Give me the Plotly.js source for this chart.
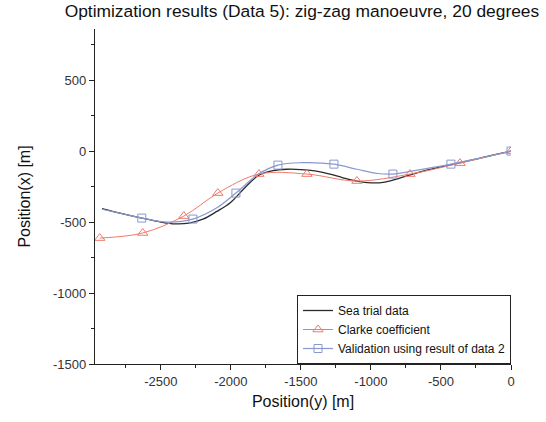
<!DOCTYPE html>
<html><head><meta charset="utf-8">
<script src="https://cdn.plot.ly/plotly-3.0.1.min.js"></script>
<style>body{margin:0;background:#fff}#g{width:546px;height:422px}</style>
</head><body><div id="g"></div>
<script>
// Sea trial data (dense trajectory)
const seaX = [-2920,-2800,-2636,-2500,-2400,-2300,-2200,-2100,-2000,-1900,-1800,-1700,-1600,-1500,-1400,-1300,-1200,-1100,-1000,-900,-800,-700,-600,-500,-400,-300,-200,-100,0];
const seaY = [-405,-435,-472,-500,-513,-508,-480,-425,-360,-258,-170,-138,-128,-130,-140,-160,-188,-212,-224,-218,-192,-162,-135,-112,-90,-68,-45,-22,0];
// Clarke coefficient (markers)
const clarkeX = [-2936,-2629,-2336,-2093,-1800,-1457,-1100,-721,-364,0];
const clarkeY = [-613,-577,-458,-296,-162,-162,-211,-162,-85,0];
// Validation using result of data 2 (line)
const valX = [-2920,-2780,-2636,-2450,-2271,-2100,-1964,-1800,-1664,-1500,-1264,-1100,-950,-843,-700,-429,-200,0];
const valY = [-410,-440,-472,-500,-479,-400,-296,-160,-99,-82,-92,-128,-158,-162,-140,-92,-45,0];
// Validation markers
const valMX = [-2636,-2271,-1964,-1664,-1264,-843,-429,0];
const valMY = [-472,-479,-296,-99,-92,-162,-92,0];
const seriesNames = ["Sea trial data","Clarke coefficient","Validation using result of data 2"];
// Tick labels
const xTickVals = [-2500,-2000,-1500,-1000,-500,0];
const xTickText = ['-2500','-2000','-1500','-1000','-500','0'];
const yTickVals = [-1500,-1000,-500,0,500];
const yTickText = ['-1500','-1000','-500','0','500'];

const cBlack = '#2a2a2a', cRed = '#f07a6a', cBlue = '#8a98d0';
const traces = [
  {x: seaX, y: seaY, mode:'lines', line:{color:cBlack, width:1.3, shape:'spline'}, name: seriesNames[0]},
  {x: clarkeX, y: clarkeY, mode:'lines+markers', line:{color:cRed, width:1, shape:'spline'},
   marker:{symbol:'triangle-up-open', size:9, color:cRed, line:{width:1}}, name: seriesNames[1]},
  {x: valX, y: valY, mode:'lines', line:{color:cBlue, width:1.2, shape:'spline'}, showlegend:false, hoverinfo:'skip'},
  {x: valMX, y: valMY, mode:'markers', marker:{symbol:'square-open', size:8, color:cBlue, line:{width:1}}, showlegend:false},
  {x:[null], y:[null], mode:'lines+markers', line:{color:cBlue, width:1.2},
   marker:{symbol:'square-open', size:8, color:cBlue, line:{width:1}}, name: seriesNames[2]}
];
const font = {family:'"Liberation Sans", Arial, sans-serif', color:'#111'};
const tickFont = {family:'"Liberation Sans", Arial, sans-serif', color:'#333', size:13};
const layout = {
  width:546, height:422,
  margin:{l:95, r:35, t:29, b:58},
  paper_bgcolor:'#fff', plot_bgcolor:'#fff',
  font: Object.assign({size:13}, font),
  title:{text:'Optimization results (Data 5): zig-zag manoeuvre, 20 degrees', x:0.553, xanchor:'center', y:0.988, yanchor:'top', font:Object.assign({size:17.4}, font)},
  xaxis:{range:[-2970,0], tickmode:'array', tickvals:xTickVals, ticktext:xTickText, tickfont:tickFont,
    ticks:'outside', ticklen:5, tickwidth:1, tickcolor:'#222',
    showline:true, linecolor:'#222', linewidth:1.2, showgrid:false, zeroline:false,
    minor:{ticks:'outside', ticklen:3, dtick:250, tick0:0, tickcolor:'#222', showgrid:false},
    title:{text:'Position(y) [m]', font:Object.assign({size:16}, font), standoff:8}},
  yaxis:{range:[-1500,860], tickmode:'array', tickvals:yTickVals, ticktext:yTickText, tickfont:tickFont,
    ticks:'outside', ticklen:5, tickwidth:1, tickcolor:'#222',
    showline:true, linecolor:'#222', linewidth:1.2, showgrid:false, zeroline:false,
    minor:{ticks:'outside', ticklen:3, dtick:250, tick0:0, tickcolor:'#222', showgrid:false},
    title:{text:'Position(x) [m]', font:Object.assign({size:16}, font), standoff:18}},
  legend:{x:1, xanchor:'right', y:0, yanchor:'bottom', bgcolor:'#fff', bordercolor:'#222', borderwidth:1,
    font:Object.assign({size:12}, font), tracegroupgap:0, itemwidth:30},
  showlegend:true
};
Plotly.newPlot('g', traces, layout, {staticPlot:true});
</script></body></html>
